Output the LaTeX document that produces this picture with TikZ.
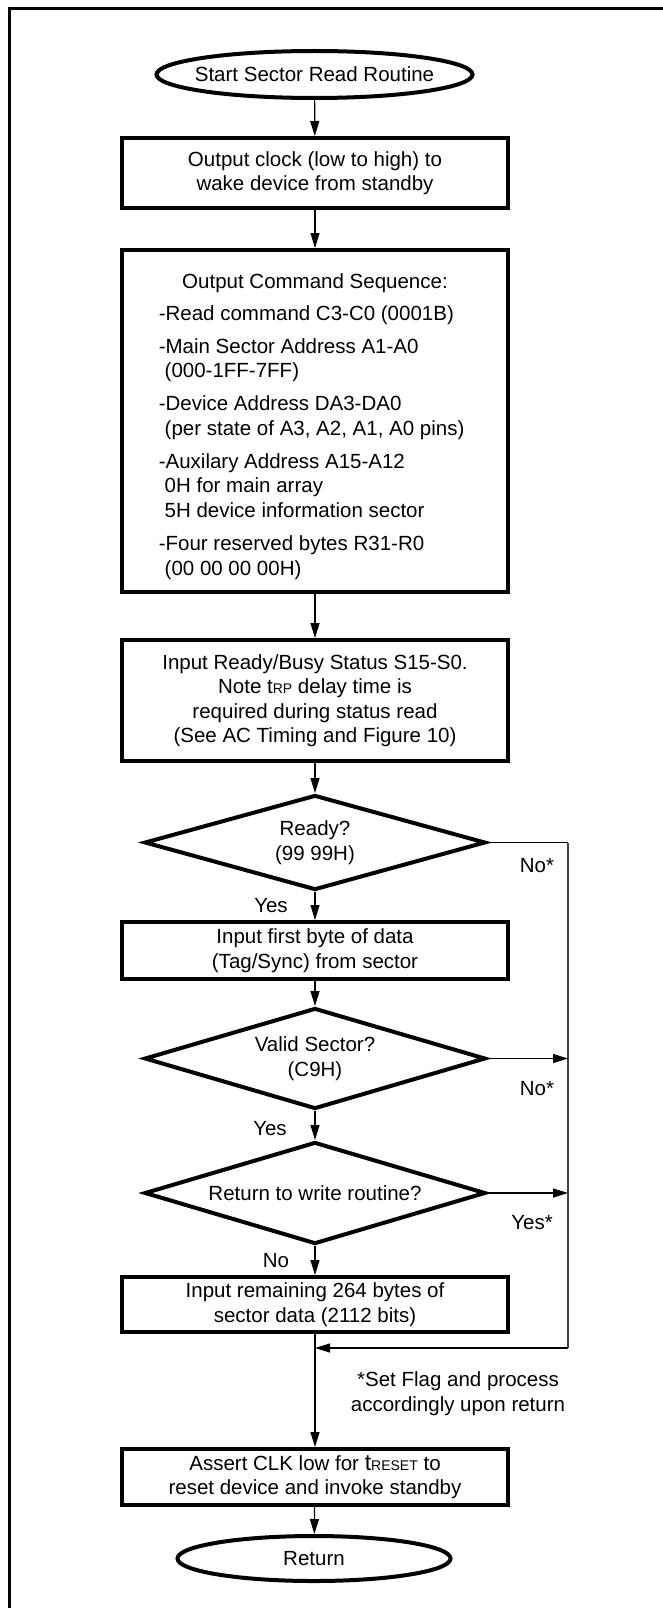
\documentclass[tikz,border=0pt]{standalone}
\usepackage{fontspec}
\setmainfont{Liberation Sans}
\usetikzlibrary{arrows.meta,shapes.geometric}
\begin{document}
\begin{tikzpicture}[x=1pt,y=-1pt,
  every node/.style={font=\fontsize{20.5pt}{24.5pt}\selectfont, inner sep=0pt},
  procbox/.style={draw, line width=4pt, rectangle, minimum width=386pt, align=center},
  decbox/.style={draw, line width=4pt, diamond, shape aspect=3.5, minimum width=341pt, align=center},
  termbox/.style={draw, line width=4pt, ellipse, align=center},
  conn/.style={line width=1.2pt, -{Triangle[length=15pt,width=9pt]}},
  rail/.style={line width=1.2pt, draw=black!75},
  lbl/.style={anchor=base},
  lst/.style={anchor=base west}]
\useasboundingbox (0,0) rectangle (663,1608);
% outer frame (top and left only)
\draw[line width=3pt] (9,1608) -- (9,8.5) -- (663,8.5);

% nodes
\node[termbox, minimum width=316pt, minimum height=47pt] (start) at (314.5,74.5) {};
\node (starttxt) at (start) {Start Sector Read Routine};
\node[procbox, minimum height=70pt] (b1) at (315,173) {Output clock (low to high) to\\wake device from standby};
\node[procbox, minimum height=342pt] (b2) at (315,421) {};
\node[lbl] (b2title) at (315,288.3) {Output Command Sequence:};
\node[lst] (l1) at (158.6,320.3) {-Read command C3-C0 (0001B)};
\node[lst] (l2) at (158.6,353.3) {-Main Sector Address A1-A0};
\node[lst] (l3) at (164.5,377.3) {(000-1FF-7FF)};
\node[lst] (l4) at (158.6,410.3) {-Device Address DA3-DA0};
\node[lst] (l5) at (164.5,435.3) {(per state of A3, A2, A1, A0 pins)};
\node[lst] (l6) at (158.6,468.3) {-Auxilary Address A15-A12};
\node[lst] (l7) at (164.5,492.3) {0H for main array};
\node[lst] (l8) at (164.5,517.3) {5H device information sector};
\node[lst] (l9) at (158.6,550.3) {-Four reserved bytes R31-R0};
\node[lst] (l10) at (164.5,575.3) {(00 00 00 00H)};
\node[procbox, minimum height=121pt] (b3) at (315,700.5) {Input Ready/Busy Status S15-S0.\\Note t{\fontsize{14pt}{14pt}\selectfont RP} delay time is\\required during status read\\(See AC Timing and Figure 10)};
\node[decbox, minimum height=95pt] (d1) at (315,842.5) {Ready?\\(99 99H)};
\node[procbox, minimum height=57pt] (b4) at (315,950.5) {Input first byte of data\\(Tag/Sync) from sector};
\node[decbox, minimum height=101pt] (d2) at (315,1058.5) {Valid Sector?\\(C9H)};
\node[decbox, minimum height=102pt] (d3) at (315,1193) {Return to write routine?};
\node[procbox, minimum height=55pt] (b5) at (315,1304.5) {Input remaining 264 bytes of\\sector data (2112 bits)};
\node[procbox, minimum height=56pt] (b6) at (315,1477) {Assert CLK low for {\fontsize{23pt}{23pt}\selectfont t}{\fontsize{14pt}{14pt}\selectfont RESET} to\\reset device and invoke standby};
\node[termbox, minimum width=273pt, minimum height=45pt] (ret) at (314,1558.5) {Return};

% labels
\node[lbl] (no1) at (537,872.3) {No*};
\node[lbl] (no2) at (537,1095.3) {No*};
\node[lbl] (yes3) at (532,1229.3) {Yes*};
\node[lbl] (yes1) at (271,912.3) {Yes};
\node[lbl] (yes2) at (270,1135.3) {Yes};
\node[lbl] (no3) at (276,1267.3) {No};
\node[align=center] (note) at (458,1393.5) {*Set Flag and process\\accordingly upon return};

% connectors
\coordinate (railtop) at (568,842.5);
\coordinate (railbot) at (568,1348);
\coordinate (join) at (315,1348);
\draw[conn] (start) -- (b1);
\draw[conn] (b1) -- (b2);
\draw[conn] (b2) -- (b3);
\draw[conn] (b3) -- (d1);
\draw[conn] (d1) -- (b4);
\draw[conn] (b4) -- (d2);
\draw[conn] (d2) -- (d3);
\draw[conn] (d3) -- (b5);
\draw[conn] (b5) -- (b6);
\draw[conn] (b6) -- (ret);
\draw[line width=1.2pt] (d1.east) -- (railtop);
\draw[rail] (railtop) -- (railbot);
\draw[conn] (railbot) -- (join);
\draw[conn] (d2.east) -- (d2.east -| railtop);
\draw[conn] (d3.east) -- (d3.east -| railtop);
\end{tikzpicture}
\end{document}
